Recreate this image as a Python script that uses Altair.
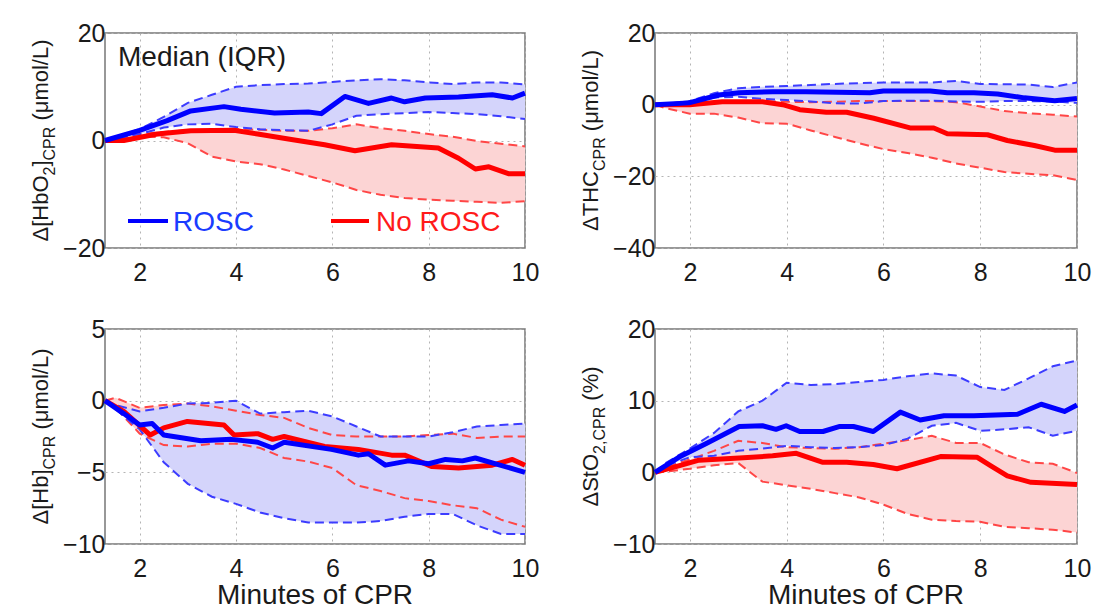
import altair as alt
import pandas as pd

FONT = "Liberation Sans"

# common time grid (minutes) used for the IQR bands
T = [1.28, 1.5, 2, 2.5, 3, 3.5, 4, 4.5, 5, 5.5, 6, 6.5, 7, 7.5, 8, 8.5, 9, 9.5, 10]

# ---- Delta[HbO2] ----
HBO2_ROSC_HI = [0, 0.7, 2.1, 4.4, 7.0, 8.5, 10.0, 10.3, 10.5, 10.6, 10.9, 11.2, 11.4, 11.2, 10.8, 10.5, 10.8, 10.8, 10.4]
HBO2_ROSC_LO = [0, 0.4, 1.2, 2.4, 3.0, 3.1, 2.5, 2.1, 1.9, 1.8, 3.0, 4.6, 4.9, 5.1, 5.3, 5.1, 4.9, 4.5, 4.0]
HBO2_NO_HI = [0, 0.5, 1.2, 1.6, 1.9, 2.0, 2.1, 2.0, 1.8, 1.8, 2.3, 3.0, 2.3, 1.8, 1.2, 0.7, -0.1, -0.6, -1.1]
HBO2_NO_LO = [0, 0.3, 0.8, 0.6, -0.5, -3.0, -3.9, -4.4, -5.4, -6.6, -7.8, -9.2, -10.1, -10.7, -11.0, -11.2, -11.4, -11.6, -11.3]
HBO2_ROSC_MED_T = [1.28, 2.0, 2.57, 3.06, 3.75, 4.1, 4.8, 5.5, 5.77, 6.26, 6.75, 7.23, 7.5, 7.93, 8.62, 9.32, 9.74, 10]
HBO2_ROSC_MED = [0, 1.9, 3.7, 5.5, 6.3, 5.8, 5.1, 5.3, 5.0, 8.2, 6.9, 7.9, 7.2, 7.9, 8.1, 8.5, 7.9, 8.8]
HBO2_NO_MED_T = [1.28, 1.67, 2.36, 3.06, 3.96, 4.45, 5.15, 5.84, 6.47, 7.23, 8.2, 8.62, 8.97, 9.25, 9.67, 10]
HBO2_NO_MED = [0, 0, 1.2, 1.8, 1.9, 1.2, 0.2, -0.8, -1.9, -0.8, -1.4, -3.3, -5.3, -4.9, -6.2, -6.2]

# ---- Delta THC ----
THC_ROSC_HI = [0, 0.2, 1.0, 3.2, 4.6, 5.0, 5.2, 5.5, 5.8, 6.0, 6.2, 6.2, 6.2, 6.6, 5.8, 5.7, 5.6, 4.9, 6.2]
THC_ROSC_LO = [0, 0.0, 0.2, 2.0, 2.2, 1.6, 1.3, 0.9, 0.4, 0.3, 1.0, 1.1, 1.1, 0.9, 0.8, 1.0, 1.0, 0.9, 0.5]
THC_NO_HI = [0, 0, 0, 0.6, 1.0, 1.0, 0.8, 0.7, 0.8, 1.0, 1.0, 1.0, 1.0, 0.7, -0.5, -1.8, -2.4, -2.8, -3.3]
THC_NO_LO = [0, -1.0, -2.5, -2.5, -3.6, -5.2, -5.3, -7.2, -9.0, -10.8, -12.4, -13.5, -14.8, -16.4, -17.6, -18.8, -19.3, -19.7, -21.0]
THC_ROSC_MED_T = [1.28, 1.98, 2.6, 3.02, 3.71, 4.4, 5.72, 6.0, 6.97, 7.32, 7.87, 8.36, 8.91, 9.54, 10]
THC_ROSC_MED = [0, 0.5, 2.7, 3.3, 3.6, 3.6, 3.3, 3.8, 3.8, 3.3, 3.3, 3.0, 1.9, 1.1, 1.7]
THC_NO_MED_T = [1.28, 2, 2.67, 3.5, 3.92, 4.27, 4.82, 5.24, 5.8, 6.55, 7.04, 7.32, 8.15, 8.56, 9.12, 9.54, 10]
THC_NO_MED = [0, 0, 0.8, 0.8, 0, -1.4, -2.1, -2.1, -3.8, -6.5, -6.5, -8.1, -8.4, -10.0, -11.4, -12.7, -12.7]

# ---- Delta[Hb] ----
HB_ROSC_HI = [0, -0.3, -0.75, -0.5, -0.2, -0.15, 0, -0.9, -0.8, -0.7, -1.1, -1.8, -2.5, -2.5, -2.5, -2.2, -1.8, -1.7, -1.6]
HB_ROSC_LO = [0, -0.6, -2.0, -4.3, -5.8, -6.7, -7.2, -7.8, -8.2, -8.5, -8.5, -8.5, -8.4, -8.1, -7.9, -7.9, -8.7, -9.3, -9.3]
HB_NO_HI = [0, 0.2, -0.5, -0.3, -0.2, -0.4, -0.7, -1.0, -1.2, -1.9, -2.4, -2.5, -2.5, -2.5, -2.4, -2.3, -2.6, -2.5, -2.5]
HB_NO_LO = [0, -0.5, -2.3, -3.1, -3.2, -3.0, -3.0, -3.3, -4.0, -4.25, -4.7, -5.9, -6.3, -6.8, -7.0, -7.3, -7.5, -8.3, -8.8]
HB_ROSC_MED_T = [1.28, 1.67, 2.0, 2.26, 2.5, 3.27, 3.9, 4.45, 4.76, 5.0, 5.98, 6.54, 6.75, 7.1, 7.58, 8.0, 8.35, 8.7, 8.97, 10]
HB_ROSC_MED = [0, -0.9, -1.7, -1.6, -2.4, -2.8, -2.7, -2.9, -3.3, -2.9, -3.4, -3.8, -3.7, -4.5, -4.2, -4.4, -4.1, -4.2, -4.0, -5.0]
HB_NO_MED_T = [1.28, 1.67, 2.22, 2.5, 2.99, 3.75, 3.96, 4.45, 4.76, 5.0, 5.84, 6.54, 7.23, 7.5, 8.07, 8.62, 9.32, 9.74, 10]
HB_NO_MED = [0, -0.75, -2.4, -1.9, -1.45, -1.7, -2.4, -2.3, -2.7, -2.5, -3.2, -3.4, -3.8, -3.8, -4.6, -4.7, -4.5, -4.1, -4.5]

# ---- Delta StO2 ----
STO2_ROSC_HI = [0, 1.3, 3.3, 5.5, 8.5, 10.0, 12.5, 12.2, 12.3, 12.6, 12.9, 13.4, 13.8, 13.5, 11.9, 11.5, 13.1, 14.8, 15.6]
STO2_ROSC_LO = [0, 0.9, 2.1, 2.3, 3.0, 3.3, 3.7, 3.5, 3.4, 3.5, 3.8, 4.7, 6.5, 6.9, 5.8, 6.0, 6.3, 5.1, 5.8]
STO2_NO_HI = [0, 0.7, 1.8, 3.0, 4.4, 4.1, 3.5, 3.4, 3.3, 3.5, 4.0, 4.5, 5.1, 4.1, 4.1, 2.5, 1.4, 1.2, -0.1]
STO2_NO_LO = [0, 0.1, 0.5, 1.0, 1.3, -1.3, -1.8, -2.3, -2.9, -3.5, -4.5, -5.8, -6.6, -6.8, -6.9, -7.6, -7.8, -8.0, -8.4]
STO2_ROSC_MED_T = [1.28, 1.77, 2.33, 3.02, 3.5, 3.78, 3.99, 4.27, 4.75, 5.1, 5.38, 5.79, 6.35, 6.76, 7.25, 7.87, 8.77, 9.26, 9.74, 10]
STO2_ROSC_MED = [0, 2.1, 4.0, 6.4, 6.5, 6.0, 6.5, 5.7, 5.7, 6.4, 6.4, 5.7, 8.4, 7.3, 7.9, 7.9, 8.1, 9.5, 8.5, 9.4]
STO2_NO_MED_T = [1.28, 1.77, 2.19, 3.02, 3.71, 4.2, 4.75, 5.24, 5.79, 6.28, 7.18, 7.94, 8.22, 8.56, 9.05, 10]
STO2_NO_MED = [0, 0.9, 1.7, 2.0, 2.3, 2.65, 1.4, 1.4, 1.1, 0.5, 2.2, 2.1, 0.9, -0.5, -1.4, -1.7]

X_TICKS = [2, 4, 6, 8, 10]
X_DOMAIN = [1.28, 10]

BLUE = "#0000ff"
RED = "#ff0000"
BLUE_DASH = "#3c3cff"
RED_DASH = "#ff4646"
BLUE_FILL = "#d4d4fb"
RED_FILL = "#fcd4d4"
TXT = "#1a1a1a"

# Arial-metric advance widths (per 1000 em) for laying out the y titles
ADV = {"Δ": 668, "[": 278, "]": 278, "H": 722, "b": 556, "O": 778, "2": 556, "C": 722,
       "P": 667, "R": 722, " ": 278, "(": 333, ")": 333, "μ": 576, "m": 833, "o": 556,
       "l": 222, "/": 278, "L": 556, "T": 611, "S": 667, "t": 278, "%": 889, ",": 278}
SIZES = {"main": 22, "sub": 16, "unit": 22}
XOFF = {"main": -57, "sub": -50, "unit": -57}

DUMMY = pd.DataFrame({"d": [0]})


def tw(s, fs):
    return sum(ADV.get(c, 556) for c in s) * fs / 1000.0


def ytitle_layers(pieces, h):
    total = sum(tw(s, SIZES[k]) for s, k in pieces)
    y = h / 2 + total / 2
    layers = []
    for s, k in pieces:
        txt = s.strip()
        lead = tw(s[: len(s) - len(s.lstrip())], SIZES[k])
        y -= lead
        layers.append(
            alt.Chart(DUMMY).mark_text(text=txt, angle=270, align="left", baseline="alphabetic",
                                       font=FONT, fontSize=SIZES[k], color=TXT)
            .encode(x=alt.value(XOFF[k]), y=alt.value(y))
        )
        y -= tw(txt, SIZES[k])
    return layers


def panel(rhi, rlo, nhi, nlo, rmt, rm, nmt, nm, ydom, yticks, w, h, pieces, extra=None):
    xs = alt.Scale(domain=X_DOMAIN, nice=False, zero=False)
    ys = alt.Scale(domain=ydom, nice=False, zero=False)
    xax = alt.Axis(values=X_TICKS, grid=True, gridDash=[2, 4], gridColor="#b4b4b4", gridWidth=1,
                   domain=False, ticks=False, tickSize=0, labelPadding=12, labelFlush=False,
                   labelFontSize=25, labelFont=FONT, labelColor=TXT, title=None, labelOverlap=False)
    yax = alt.Axis(values=yticks, grid=True, gridDash=[2, 4], gridColor="#b4b4b4", gridWidth=1,
                   domain=False, ticks=False, tickSize=0, labelPadding=0, labelFlush=False,
                   labelFontSize=25, labelFont=FONT, labelColor=TXT, title=None, labelOverlap=False)
    band_r = pd.DataFrame({"t": T, "hi": rhi, "lo": rlo})
    band_n = pd.DataFrame({"t": T, "hi": nhi, "lo": nlo})
    med_r = pd.DataFrame({"t": rmt, "v": rm})
    med_n = pd.DataFrame({"t": nmt, "v": nm})

    def X(ax=None):
        if ax is None:
            return alt.X("t:Q", scale=xs)
        return alt.X("t:Q", scale=xs, axis=ax)

    def Y(f, ax=None):
        if ax is None:
            return alt.Y(f + ":Q", scale=ys)
        return alt.Y(f + ":Q", scale=ys, axis=ax)

    layers = [
        alt.Chart(band_n).mark_area(color=RED_FILL, opacity=1).encode(x=X(xax), y=Y("lo", yax), y2="hi:Q"),
        alt.Chart(band_r).mark_area(color=BLUE_FILL, opacity=1).encode(x=X(), y=Y("lo"), y2="hi:Q"),
    ]
    for df, col in ((band_n, RED_DASH), (band_r, BLUE_DASH)):
        for f in ("hi", "lo"):
            layers.append(alt.Chart(df).mark_line(color=col, strokeWidth=2, strokeDash=[9, 5])
                          .encode(x=X(), y=Y(f)))
    layers.append(alt.Chart(med_n).mark_line(color=RED, strokeWidth=5, strokeJoin="round")
                  .encode(x=X(), y=Y("v")))
    layers.append(alt.Chart(med_r).mark_line(color=BLUE, strokeWidth=5, strokeJoin="round")
                  .encode(x=X(), y=Y("v")))
    layers += ytitle_layers(pieces, h)
    if extra:
        layers += extra
    return alt.layer(*layers).properties(width=w, height=h)


def txt(s, x, y, fs, color, align="left"):
    return (alt.Chart(DUMMY).mark_text(text=s, align=align, baseline="alphabetic", font=FONT,
                                       fontSize=fs, color=color)
            .encode(x=alt.value(x), y=alt.value(y)))


def seg(x1, x2, y, color):
    return (alt.Chart(DUMMY).mark_rule(color=color, strokeWidth=4)
            .encode(x=alt.value(x1), x2=alt.value(x2), y=alt.value(y), y2=alt.value(y)))


def anchor(x, y):
    return (alt.Chart(DUMMY).mark_rule(opacity=0, strokeWidth=0)
            .encode(x=alt.value(x), x2=alt.value(x), y=alt.value(y), y2=alt.value(y)))


WL, WR, HT, HB = 420, 422, 215, 215

legend = [
    txt("Median (IQR)", 13, 33, 28, TXT),
    seg(23, 63, 188, BLUE),
    txt("ROSC", 68, 198, 28, "#1a3cff"),
    seg(226, 264, 188, RED),
    txt("No ROSC", 271, 198, 28, "#ff1a1a"),
    anchor(-104, -32),
]

tl = panel(HBO2_ROSC_HI, HBO2_ROSC_LO, HBO2_NO_HI, HBO2_NO_LO,
           HBO2_ROSC_MED_T, HBO2_ROSC_MED, HBO2_NO_MED_T, HBO2_NO_MED,
           [-20, 20], [-20, 0, 20], WL, HT,
           [("Δ[HbO", "main"), ("2", "sub"), ("]", "main"), ("CPR", "sub"), (" (μmol/L)", "unit")],
           legend)
tr = panel(THC_ROSC_HI, THC_ROSC_LO, THC_NO_HI, THC_NO_LO,
           THC_ROSC_MED_T, THC_ROSC_MED, THC_NO_MED_T, THC_NO_MED,
           [-40, 20], [-40, -20, 0, 20], WR, HT,
           [("ΔTHC", "main"), ("CPR", "sub"), (" (μmol/L)", "unit")])
bl = panel(HB_ROSC_HI, HB_ROSC_LO, HB_NO_HI, HB_NO_LO,
           HB_ROSC_MED_T, HB_ROSC_MED, HB_NO_MED_T, HB_NO_MED,
           [-10, 5], [-10, -5, 0, 5], WL, HB,
           [("Δ[Hb]", "main"), ("CPR", "sub"), (" (μmol/L)", "unit")],
           [txt("Minutes of CPR", WL / 2, HB + 60, 28, TXT, "center")])
br = panel(STO2_ROSC_HI, STO2_ROSC_LO, STO2_NO_HI, STO2_NO_LO,
           STO2_ROSC_MED_T, STO2_ROSC_MED, STO2_NO_MED_T, STO2_NO_MED,
           [-10, 20], [-10, 0, 10, 20], WR, HB,
           [("ΔStO", "main"), ("2,CPR", "sub"), (" (%)", "unit")],
           [txt("Minutes of CPR", WR / 2, HB + 60, 28, TXT, "center"),
            anchor(WR + 24, HB + 70)])

chart = (alt.concat(tl, tr, bl, br, columns=2, spacing={"row": 81, "column": 130}, bounds="flush")
         .properties(padding=0, background="white")
         .configure_view(stroke="#777777", strokeWidth=1.5))

chart.save("out.html", embed_options={"renderer": "svg", "actions": False})
